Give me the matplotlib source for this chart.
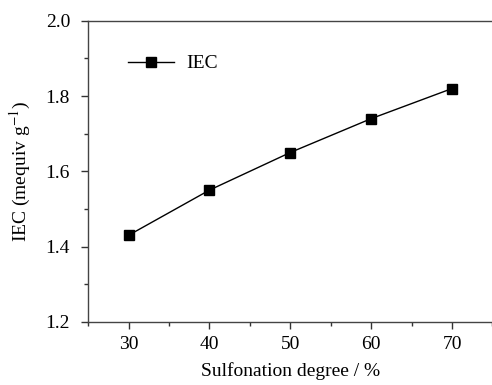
import matplotlib
matplotlib.use("Agg")
import matplotlib.pyplot as plt
from matplotlib.ticker import MultipleLocator

# sulfonation degree (%) vs ion exchange capacity
sulfonation = [30, 40, 50, 60, 70]
iec = [1.43, 1.55, 1.65, 1.74, 1.82]

plt.rcParams['font.family'] = ['Liberation Serif', 'DejaVu Serif']
plt.rcParams['mathtext.fontset'] = 'stix'

fig = plt.figure(figsize=(4.92, 3.85), dpi=100)
ax = fig.add_axes([0.179, 0.164, 0.822, 0.782])

ax.plot(sulfonation, iec, color="black", lw=1.0, marker="s", ms=6.5,
        markeredgecolor="black", markerfacecolor="black", label="IEC")

ax.set_xlim(25, 75)
ax.set_ylim(1.2, 2.0)
ax.xaxis.set_major_locator(MultipleLocator(10))
ax.xaxis.set_minor_locator(MultipleLocator(5))
ax.yaxis.set_major_locator(MultipleLocator(0.2))
ax.yaxis.set_minor_locator(MultipleLocator(0.1))
ax.yaxis.set_major_formatter(plt.FormatStrFormatter("%.1f"))

ax.tick_params(which="both", direction="out", top=False, right=False,
               color="#333333", labelsize=14)
ax.tick_params(which="major", length=5, width=1, pad=5)
ax.tick_params(axis="y", which="major", pad=8)
ax.tick_params(which="minor", length=3, width=1)

for side in ["left", "bottom", "top"]:
    ax.spines[side].set_color("#444444")
    ax.spines[side].set_linewidth(1.0)
ax.spines["right"].set_visible(False)

ax.set_xlabel("Sulfonation degree / %", fontsize=14, labelpad=7)
ax.set_ylabel("IEC (mequiv g$^{-1}$)", fontsize=14, labelpad=9)

ax.legend(loc="upper left", frameon=False, fontsize=14,
          bbox_to_anchor=(0.055, 0.945), handlelength=2.4, handletextpad=0.6)

fig.savefig("out.png", dpi=100)
